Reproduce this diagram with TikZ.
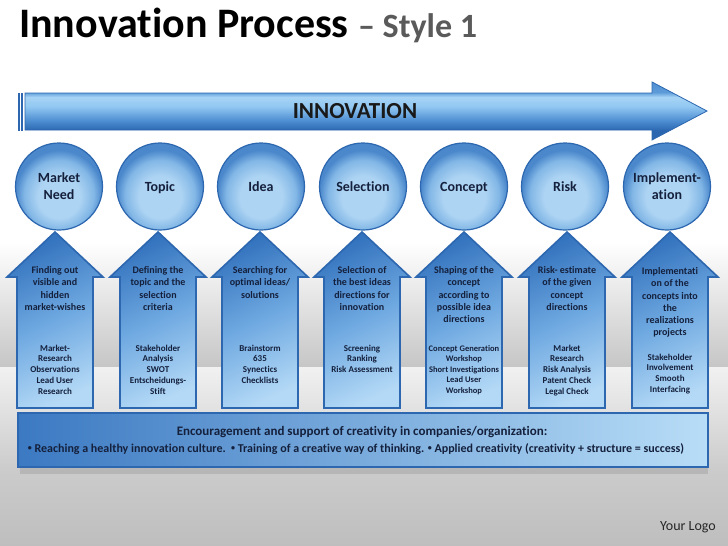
\documentclass[tikz,border=0pt]{standalone}
\usepackage{fontspec}
\setmainfont{Carlito}[Ligatures=NoCommon]
\definecolor{txt}{HTML}{14203C}
\definecolor{bord}{HTML}{2C67AF}
\definecolor{bgG}{HTML}{C6C6C6}
\definecolor{bgM}{HTML}{CBCBCB}
\definecolor{bgL}{HTML}{F1F1F1}
\definecolor{bgB}{HTML}{BEBEBE}
\definecolor{baD}{HTML}{2A66B0}
\definecolor{baM}{HTML}{4F8FD2}
\definecolor{baL}{HTML}{92C8F2}
\definecolor{baT}{HTML}{A6D3F5}
\definecolor{baE}{HTML}{5E9CD8}
\definecolor{cA}{HTML}{AED4F3}
\definecolor{cB}{HTML}{82B7E6}
\definecolor{cC}{HTML}{4A87CB}
\definecolor{arD}{HTML}{3473BE}
\definecolor{arM}{HTML}{6FA9E1}
\definecolor{arL}{HTML}{B4D9F6}
\definecolor{bxD}{HTML}{3B79C2}
\definecolor{bxL}{HTML}{B8DDF7}
\definecolor{subgray}{HTML}{5A5A5A}
\pgfdeclareverticalshading{bgtopsh}{100bp}{color(0bp)=(bgG); color(25bp)=(bgG); color(42bp)=(white); color(100bp)=(white)}
\pgfdeclareverticalshading{bgbotsh}{100bp}{color(0bp)=(bgB); color(25bp)=(bgB); color(46bp)=(bgM); color(75bp)=(bgL); color(100bp)=(bgL)}
\pgfdeclareverticalshading{bigarrowsh}{100bp}{color(0bp)=(baD); color(33bp)=(baD); color(42bp)=(baM); color(54bp)=(baL); color(62bp)=(baT); color(66bp)=(baE); color(75bp)=(baM); color(100bp)=(baM)}
\pgfdeclareradialshading{circsh}{\pgfpoint{0bp}{-8bp}}{color(0bp)=(cA); color(12bp)=(cA); color(20bp)=(cB); color(25bp)=(cC); color(50bp)=(cC)}
\tikzset{
  circ/.style={circle, minimum size=87pt, inner sep=0pt, shade, shading=circsh, draw=bord, line width=1.2pt, font=\bfseries\fontsize{14}{17}\selectfont, text=txt, align=center},
  oneline/.style={text height=9.5pt, text depth=0pt},
  arrowfill/.style={top color=arD, bottom color=arL, middle color=arM, shading angle=25, draw=bord, line width=1.6pt, line join=miter},
  uptext/.style={anchor=north, inner sep=0pt, align=center, text=txt, font=\bfseries\fontsize{10}{12.2}\selectfont},
  lowtext/.style={anchor=north, inner sep=0pt, align=center, text=txt, font=\bfseries\fontsize{9}{10.8}\selectfont},
  smalltext/.style={anchor=north, inner sep=0pt, align=center, text=txt, font=\bfseries\fontsize{8.5}{10.5}\selectfont},
}
\newcommand{\uparr}[1]{%
  \path[arrowfill] (#1,232) -- (#1+48,277) -- (#1+38,277) -- (#1+38,408) -- (#1-38,408) -- (#1-38,277) -- (#1-48,277) -- cycle;}
\newcommand{\smbul}{\raisebox{1.6pt}{\fontsize{8}{8}\selectfont•}}
\begin{document}
\begin{tikzpicture}[x=1pt,y=-1pt]
\useasboundingbox (0,0) rectangle (728,546);
% background
\shade[shading=bgtopsh] (0,0) rectangle (728,367);
\shade[shading=bgbotsh] (0,367) rectangle (728,546);
% title
\node[anchor=base west, inner sep=0pt, text=black] (title) at (19,37)
  {\fontsize{42}{50}\selectfont\bfseries Innovation Process {\color{subgray}\fontsize{34}{40}\selectfont -- Style 1}};
% big arrow
\shade[shading=bigarrowsh, draw=bord, line width=0.8pt] (18,93) rectangle (19.6,130);
\shade[shading=bigarrowsh, draw=bord, line width=0.8pt] (21.2,93) rectangle (22.8,130);
\shade[shading=bigarrowsh, draw=bord, line width=0.8pt, line join=miter]
  (25,93) -- (652,93) -- (652,82) -- (707,111) -- (652,140) -- (652,130) -- (25,130) -- cycle;
\node[font=\bfseries\fontsize{23}{27}\selectfont, text=black!90] (innov) at (355,111) {INNOVATION};
% circles
\node[circ] (c1) at (59,186.5) {Market\\Need};
\node[circ, oneline] (c2) at (160,186.5) {Topic};
\node[circ, oneline] (c3) at (261,186.5) {Idea};
\node[circ, oneline] (c4) at (363,186.5) {Selection};
\node[circ, oneline] (c5) at (464,186.5) {Concept};
\node[circ, oneline] (c6) at (565,186.5) {Risk};
\node[circ] (c7) at (667,186.5) {Implement-\\ation};
% up arrows
\uparr{55}\uparr{158}\uparr{260}\uparr{362}\uparr{464}\uparr{567}\uparr{670}
% arrow texts
\node[uptext] (u1) at (55,266.5) {Finding out\\visible and\\hidden\\market-wishes};
\node[lowtext] (l1) at (55,344.5) {Market-\\Research\\Observations\\Lead User\\Research};
\node[uptext] (u2) at (158,266.5) {Defining the\\topic and the\\selection\\criteria};
\node[lowtext] (l2) at (158,344.5) {Stakeholder\\Analysis\\SWOT\\Entscheidungs-\\Stift};
\node[uptext] (u3) at (260,266.5) {Searching for\\optimal ideas/\\solutions};
\node[lowtext] (l3) at (260,344.5) {Brainstorm\\635\\Synectics\\Checklists};
\node[uptext] (u4) at (362,266.5) {Selection of\\the best ideas\\directions for\\innovation};
\node[lowtext] (l4) at (362,344.5) {Screening\\Ranking\\Risk Assessment};
\node[uptext] (u5) at (464,266.5) {Shaping of the\\concept\\according to\\possible idea\\directions};
\node[smalltext] (l5) at (464,345) {Concept Generation\\Workshop\\Short Investigations\\Lead User\\Workshop};
\node[uptext] (u6) at (567,266.5) {Risk- estimate\\of the given\\concept\\directions};
\node[lowtext] (l6) at (567,344.5) {Market\\Research\\Risk Analysis\\Patent Check\\Legal Check};
\node[uptext] (u7) at (670,267.5) {Implementati\\on of the\\concepts into\\the\\realizations\\projects};
\node[lowtext] (l7) at (670,353.5) {Stakeholder\\Involvement\\Smooth\\Interfacing};
% bottom box
\fill[black, opacity=0.10] (20,467) rectangle (708,474);
\node[draw=bord, line width=1.6pt, left color=bxD, right color=bxL, minimum width=690pt, minimum height=54pt, inner sep=0pt] (bx) at (363,440) {};
\node[anchor=base, inner sep=0pt, text=txt, font=\bfseries\fontsize{13}{16}\selectfont] (b1) at (362,435)
  {Encouragement and support of creativity in companies/organization:};
\node[anchor=base, inner sep=0pt, text=txt, font=\bfseries\fontsize{12}{14}\selectfont] (b2) at (356,452.5)
  {\smbul\ Reaching a healthy innovation culture.\ \ \smbul\ Training of a creative way of thinking. \smbul\ Applied creativity (creativity + structure = success)};
% logo
\node[font=\fontsize{14}{17}\selectfont, text=black!85] (logo) at (688,527) {Your Logo};
\end{tikzpicture}
\end{document}
